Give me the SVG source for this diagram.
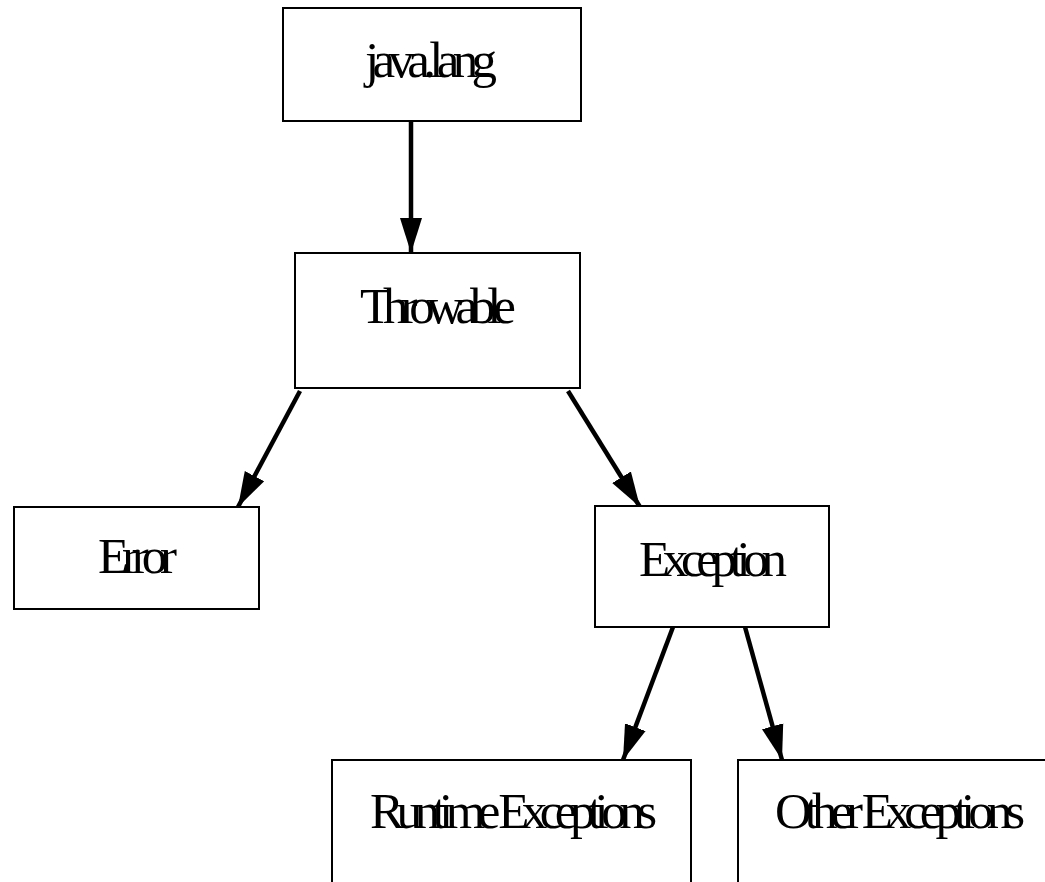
<svg xmlns="http://www.w3.org/2000/svg" width="1045" height="882" viewBox="0 0 1045 882">
<style>
.box{fill:#fff;stroke:#000;stroke-width:2}
.lbl{font-family:"Liberation Serif","Times New Roman",serif;font-size:51px;fill:#000}
.edge{stroke:#000;stroke-width:4.5;fill:none}
</style>
<defs>
<marker id="ah" markerUnits="userSpaceOnUse" markerWidth="36" markerHeight="24" refX="35" refY="12" orient="auto" viewBox="0 0 36 24">
<path d="M0,1 L35,12 L0,23 Z" fill="#000"/>
</marker>
</defs>
<rect width="1045" height="882" fill="#fff"/>
<g id="connectors">
<line class="edge" x1="411" y1="121" x2="411" y2="253" marker-end="url(#ah)"/>
<line class="edge" x1="300" y1="391" x2="238" y2="507" marker-end="url(#ah)"/>
<line class="edge" x1="568" y1="391" x2="640" y2="507" marker-end="url(#ah)"/>
<line class="edge" x1="673" y1="627" x2="623" y2="760" marker-end="url(#ah)"/>
<line class="edge" x1="745" y1="627" x2="782" y2="760" marker-end="url(#ah)"/>
</g>
<g id="node-javalang">
<rect class="box" x="283" y="8" width="298" height="113"/>
<text class="lbl" x="365" y="77" textLength="132">java.lang</text>
</g>
<g id="node-throwable">
<rect class="box" x="295" y="253" width="285" height="135"/>
<text class="lbl" x="360" y="323" textLength="156">Throwable</text>
</g>
<g id="node-error">
<rect class="box" x="14" y="507" width="245" height="102"/>
<text class="lbl" x="98" y="573" textLength="79">Error</text>
</g>
<g id="node-exception">
<rect class="box" x="595" y="506" width="234" height="121"/>
<text class="lbl" x="639" y="576" textLength="148">Exception</text>
</g>
<g id="node-runtime">
<rect class="box" x="332" y="760" width="359" height="140"/>
<text class="lbl" x="370" y="828" textLength="287">Runtime Exceptions</text>
</g>
<g id="node-other">
<rect class="box" x="738" y="760" width="330" height="140"/>
<text class="lbl" x="775" y="828" textLength="250">Other Exceptions</text>
</g>
</svg>
